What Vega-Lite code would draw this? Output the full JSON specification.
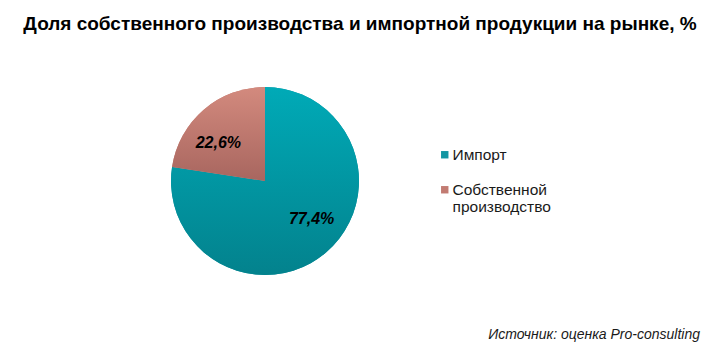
{
  "$schema": "https://vega.github.io/schema/vega-lite/v6.json",
  "autosize": {"type": "none"},
  "width": 530,
  "height": 260,
  "padding": {"left": 0, "top": 51, "right": 191, "bottom": 45},
  "background": "white",
  "view": {"stroke": null},
  "title": {
    "text": "Доля собственного производства и импортной продукции на рынке, %",
    "font": "Liberation Sans",
    "fontSize": 19,
    "fontWeight": "bold",
    "color": "#000000",
    "anchor": "middle",
    "dx": 95,
    "offset": 17
  },
  "data": {
    "values": [
      {"category": "Импорт", "share": 77.4, "label": "77,4%", "note": "Источник: оценка Pro-consulting"},
      {"category": "Собственной производство", "share": 22.6, "label": "22,6%", "note": ""}
    ]
  },
  "encoding": {
    "theta": {"field": "share", "type": "quantitative", "stack": true},
    "order": {"field": "share", "sort": "descending"}
  },
  "layer": [
    {
      "mark": {"type": "arc", "outerRadius": 94, "stroke": null},
      "encoding": {
        "color": {
          "field": "category",
          "type": "nominal",
          "sort": ["Импорт", "Собственной производство"],
          "scale": {"domain": ["Импорт", "Собственной производство"], "range": ["#1396a2", "#c27b72"]},
          "legend": {
            "title": null,
            "orient": "none",
            "legendX": 437,
            "legendY": 96,
            "symbolType": "square",
            "symbolSize": 55,
            "symbolStrokeWidth": 0,
            "labelFont": "Liberation Sans",
            "labelFontSize": 15.5,
            "labelColor": "#1a1a1a",
            "labelOffset": 0,
            "rowPadding": 18,
            "labelLimit": 200,
            "labelExpr": "datum.label == 'Собственной производство' ? ['Собственной', 'производство'] : datum.label",
            "encode": {"labels": {"enter": {"lineHeight": {"value": 23}}, "update": {"lineHeight": {"value": 23}}}}
          }
        }
      }
    },
    {
      "mark": {"type": "arc", "outerRadius": 94, "stroke": null},
      "encoding": {
        "fill": {
          "condition": {
            "test": "datum.category == 'Импорт'",
            "value": {"gradient": "linear", "x1": 0, "y1": 0, "x2": 0, "y2": 1, "stops": [{"offset": 0, "color": "#00aab7"}, {"offset": 1, "color": "#03828d"}]}
          },
          "value": {"gradient": "linear", "x1": 0, "y1": 0, "x2": 0, "y2": 1, "stops": [{"offset": 0, "color": "#d38a7e"}, {"offset": 1, "color": "#a8665f"}]}
        }
      }
    },
    {
      "mark": {"type": "text", "radius": 60, "font": "Liberation Sans", "fontSize": 16, "fontWeight": "bold", "fontStyle": "italic", "color": "#000000"},
      "encoding": {
        "text": {"field": "label"},
        "theta": {"field": "share", "type": "quantitative", "stack": true, "scale": {"range": [-0.18, 6.1032]}}
      }
    },
    {
      "transform": [{"filter": "datum.note != ''"}],
      "mark": {"type": "text", "font": "Liberation Sans", "fontSize": 14, "fontStyle": "italic", "color": "#1a1a1a", "align": "right", "baseline": "middle", "dx": 170, "dy": 24},
      "encoding": {
        "text": {"field": "note"},
        "x": {"value": "width"},
        "y": {"value": "height"},
        "theta": null,
        "order": null
      }
    }
  ],
  "resolve": {"scale": {"theta": "independent"}}
}
